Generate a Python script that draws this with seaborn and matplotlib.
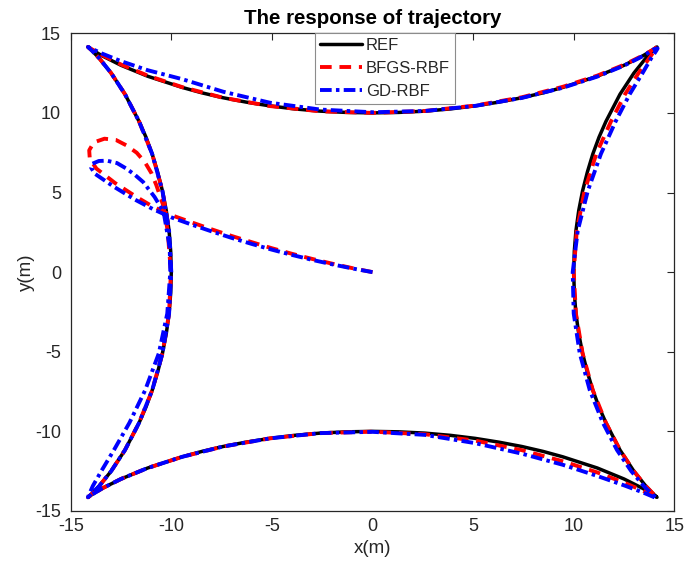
import numpy as np
import pandas as pd
import matplotlib
matplotlib.use('Agg')
import matplotlib.pyplot as plt
import seaborn as sns

# ----------------------------
# DATA
# ----------------------------

# reference trajectory: closed curve, start at top-left cusp, going down the left side
ref_x = [-14.14, -13.99, -13.58, -12.99, -12.30, -11.60, -11.26, -10.95, -10.68, -10.44,
         -10.25, -10.11, -10.03, -10.00, -10.03, -10.11, -10.25, -10.44, -10.68, -10.95,
         -11.26, -11.60, -12.30, -12.99, -13.58, -13.99, -14.14,
         -13.97, -13.43, -12.50, -11.17, -9.46, -8.48, -7.42, -6.29, -5.10, -3.87, -2.60,
         -1.31, 0.00, 1.31, 2.60, 3.87, 5.10, 6.29, 7.42, 8.48, 9.46, 11.17, 12.50,
         13.43, 13.97, 14.14,
         13.99, 13.58, 12.99, 12.30, 11.60, 11.26, 10.95, 10.68, 10.44, 10.25, 10.11,
         10.03, 10.00, 10.03, 10.11, 10.25, 10.44, 10.68, 10.95, 11.26, 11.60, 12.30,
         12.99, 13.58, 13.99, 14.14,
         13.97, 13.43, 12.50, 11.17, 9.46, 8.48, 7.42, 6.29, 5.10, 3.87, 2.60, 1.31,
         0.00, -1.31, -2.60, -3.87, -5.10, -6.29, -7.42, -8.48, -9.46, -11.17, -12.50,
         -13.43, -13.97, -14.14]
ref_y = [14.14, 13.97, 13.43, 12.50, 11.17, 9.46, 8.48, 7.42, 6.29, 5.10,
         3.87, 2.60, 1.31, 0.00, -1.31, -2.60, -3.87, -5.10, -6.29, -7.42,
         -8.48, -9.46, -11.17, -12.50, -13.43, -13.97, -14.14,
         -13.99, -13.58, -12.99, -12.30, -11.60, -11.26, -10.95, -10.68, -10.44, -10.25, -10.11,
         -10.03, -10.00, -10.03, -10.11, -10.25, -10.44, -10.68, -10.95, -11.26, -11.60, -12.30, -12.99,
         -13.58, -13.99, -14.14,
         -13.97, -13.43, -12.50, -11.17, -9.46, -8.48, -7.42, -6.29, -5.10, -3.87, -2.60,
         -1.31, 0.00, 1.31, 2.60, 3.87, 5.10, 6.29, 7.42, 8.48, 9.46, 11.17,
         12.50, 13.43, 13.97, 14.14,
         13.99, 13.58, 12.99, 12.30, 11.60, 11.26, 10.95, 10.68, 10.44, 10.25, 10.11, 10.03,
         10.00, 10.03, 10.11, 10.25, 10.44, 10.68, 10.95, 11.26, 11.60, 12.30, 12.99,
         13.58, 13.99, 14.14]

# BFGS-RBF: starts at origin, loops near (-14, 8), then follows the reference
bfgs_x = [0.00, -1.00, -2.00, -3.00, -4.00, -5.00, -6.00, -7.00, -8.00, -9.00, -10.00,
          -10.90, -11.74, -12.80, -13.72, -14.05, -14.08, -13.85, -13.32, -12.75, -12.23,
          -11.72, -11.32, -10.98, -10.74, -10.40, -10.18, -10.02,
          -10.11, -10.44, -10.95, -11.60, -12.30, -12.99, -13.58, -13.99, -14.14,
          -13.97, -13.43, -12.50, -11.17, -9.46, -7.42, -5.10, -2.60, 0.00,
          2.60, 5.10, 7.42, 9.46, 11.17, 12.50, 13.43, 13.97, 14.14,
          13.99, 13.58, 12.99, 12.30, 11.60, 10.95, 10.44, 10.11, 10.00,
          10.15, 10.54, 11.12, 11.85, 12.55, 13.22, 13.75, 14.05, 14.14,
          13.97, 13.43, 12.50, 11.17, 9.46, 7.42, 5.10, 2.60, 0.00,
          -2.60, -5.10, -7.42, -9.46, -11.17, -12.50, -13.43, -13.97, -14.14,
          -13.99, -13.58, -12.99, -12.30, -11.60, -10.95, -10.44, -10.11]
bfgs_y = [0.00, 0.25, 0.53, 0.83, 1.15, 1.50, 1.88, 2.27, 2.69, 3.13, 3.58,
          4.10, 4.73, 5.60, 6.50, 7.10, 7.65, 8.15, 8.38, 8.30, 7.96,
          7.50, 6.92, 6.20, 5.45, 4.19, 2.60, 0.00,
          -2.60, -5.10, -7.42, -9.46, -11.17, -12.50, -13.43, -13.97, -14.14,
          -13.99, -13.58, -12.99, -12.30, -11.60, -10.95, -10.44, -10.11, -10.02,
          -10.18, -10.58, -11.18, -11.88, -12.58, -13.22, -13.72, -14.05, -14.14,
          -13.97, -13.43, -12.50, -11.17, -9.46, -7.42, -5.10, -2.60, 0.00,
          2.60, 5.10, 7.42, 9.46, 11.17, 12.50, 13.43, 13.97, 14.14,
          13.99, 13.60, 13.02, 12.34, 11.64, 10.98, 10.46, 10.12, 10.00,
          10.10, 10.43, 10.95, 11.62, 12.34, 13.04, 13.63, 14.01, 14.14,
          13.97, 13.43, 12.50, 11.17, 9.46, 7.42, 5.10, 2.60]

# GD-RBF: smaller loop, bigger drift on the corners
gd_x = [0.00, -1.00, -2.00, -3.00, -4.00, -5.00, -6.00, -7.00, -8.00, -9.00, -10.00,
        -10.90, -11.80, -12.90, -13.80, -13.98, -13.92, -13.60, -13.20, -12.70, -12.23,
        -11.80, -11.40, -10.83, -10.38, -10.08, -10.05,
        -10.20, -10.62, -11.30, -12.08, -12.85, -13.48, -13.90, -14.10, -14.14,
        -13.97, -13.43, -12.50, -11.17, -9.46, -7.42, -5.10, -2.60, 0.00,
        2.60, 5.10, 7.42, 9.46, 11.17, 12.50, 13.43, 13.97, 14.12,
        13.92, 13.48, 12.86, 12.15, 11.45, 10.80, 10.30, 10.00, 9.95,
        10.20, 10.70, 11.35, 12.08, 12.78, 13.42, 13.85, 14.10, 14.17,
        13.97, 13.43, 12.50, 11.17, 9.46, 7.42, 5.10, 2.60, 0.00,
        -2.60, -5.10, -7.42, -9.46, -11.17, -12.50, -13.43, -13.97, -14.14,
        -13.99, -13.58, -12.99, -12.30, -11.60, -10.95, -10.44, -10.11, -10.00,
        -10.11, -10.44, -10.95, -11.60, -12.30, -12.99, -13.58, -13.99, -14.14]
gd_y = [0.00, 0.23, 0.49, 0.77, 1.08, 1.41, 1.77, 2.15, 2.56, 2.99, 3.44,
        3.95, 4.55, 5.40, 6.18, 6.55, 6.81, 6.98, 7.00, 6.85, 6.50,
        6.10, 5.66, 4.72, 3.77, 1.57, 0.00,
        -2.60, -5.10, -7.42, -9.46, -11.17, -12.50, -13.43, -14.00, -14.14,
        -13.99, -13.58, -12.99, -12.30, -11.60, -10.95, -10.44, -10.11, -10.03,
        -10.22, -10.74, -11.40, -12.10, -12.80, -13.39, -13.83, -14.12, -14.22,
        -13.97, -13.43, -12.50, -11.17, -9.46, -7.42, -5.10, -2.60, 0.00,
        2.60, 5.10, 7.42, 9.46, 11.17, 12.50, 13.43, 13.90, 14.05,
        13.99, 13.56, 12.97, 12.28, 11.58, 10.94, 10.44, 10.12, 10.04,
        10.21, 10.64, 11.33, 12.12, 12.68, 13.25, 13.72, 14.04, 14.14,
        13.97, 13.43, 12.50, 11.17, 9.46, 7.42, 5.10, 2.60, 0.00,
        -2.60, -5.10, -7.42, -9.46, -11.17, -12.50, -13.43, -13.97, -14.14]

ticks = [-15, -10, -5, 0, 5, 10, 15]

# ----------------------------
# STYLE
# ----------------------------

sns.set_style('white')
plt.rcParams['font.family'] = ['Liberation Sans', 'DejaVu Sans']
plt.rcParams['axes.unicode_minus'] = False

fig = plt.figure(figsize=(6.85, 5.68), dpi=100)
ax = fig.add_axes([0.1032, 0.1004, 0.8812, 0.8410])

# ----------------------------
# CURVES
# ----------------------------

sns.lineplot(x=ref_x, y=ref_y, sort=False, estimator=None, ax=ax,
             color='black', linewidth=2.5, label='REF')
sns.lineplot(x=bfgs_x, y=bfgs_y, sort=False, estimator=None, ax=ax,
             color='#ff0000', linewidth=2.8, linestyle=(0, (3, 2)), label='BFGS-RBF')
sns.lineplot(x=gd_x, y=gd_y, sort=False, estimator=None, ax=ax,
             color='#0000ff', linewidth=2.8, linestyle=(0, (3, 1.1, 0.9, 1.1)), label='GD-RBF')

ax.set_xlim(-15, 15)
ax.set_ylim(-15, 15)
ax.set_xticks(ticks)
ax.set_yticks(ticks)
ax.tick_params(direction='in', length=5, width=0.8, colors='#262626',
               labelsize=13, top=True, right=True, labeltop=False, labelright=False)
ax.tick_params(axis='x', pad=5)
ax.tick_params(axis='y', pad=7)
for sp in ax.spines.values():
    sp.set_color('#262626')
    sp.set_linewidth(0.9)

ax.set_title('The response of trajectory', fontsize=14.8, fontweight='bold',
             color='black', pad=7)
ax.set_xlabel('x(m)', fontsize=13.5, color='#262626', labelpad=4)
ax.set_ylabel('y(m)', fontsize=13.5, color='#262626', labelpad=0)

leg = ax.legend(loc='upper left', bbox_to_anchor=(0.405, 1.0), borderaxespad=0,
                fontsize=12, handlelength=2.5, handletextpad=0.25, borderpad=0.3,
                labelspacing=0.48, fancybox=False, framealpha=1)
leg.get_frame().set_edgecolor('#8c8c8c')
leg.get_frame().set_linewidth(0.8)

plt.savefig('out.png', dpi=100)
